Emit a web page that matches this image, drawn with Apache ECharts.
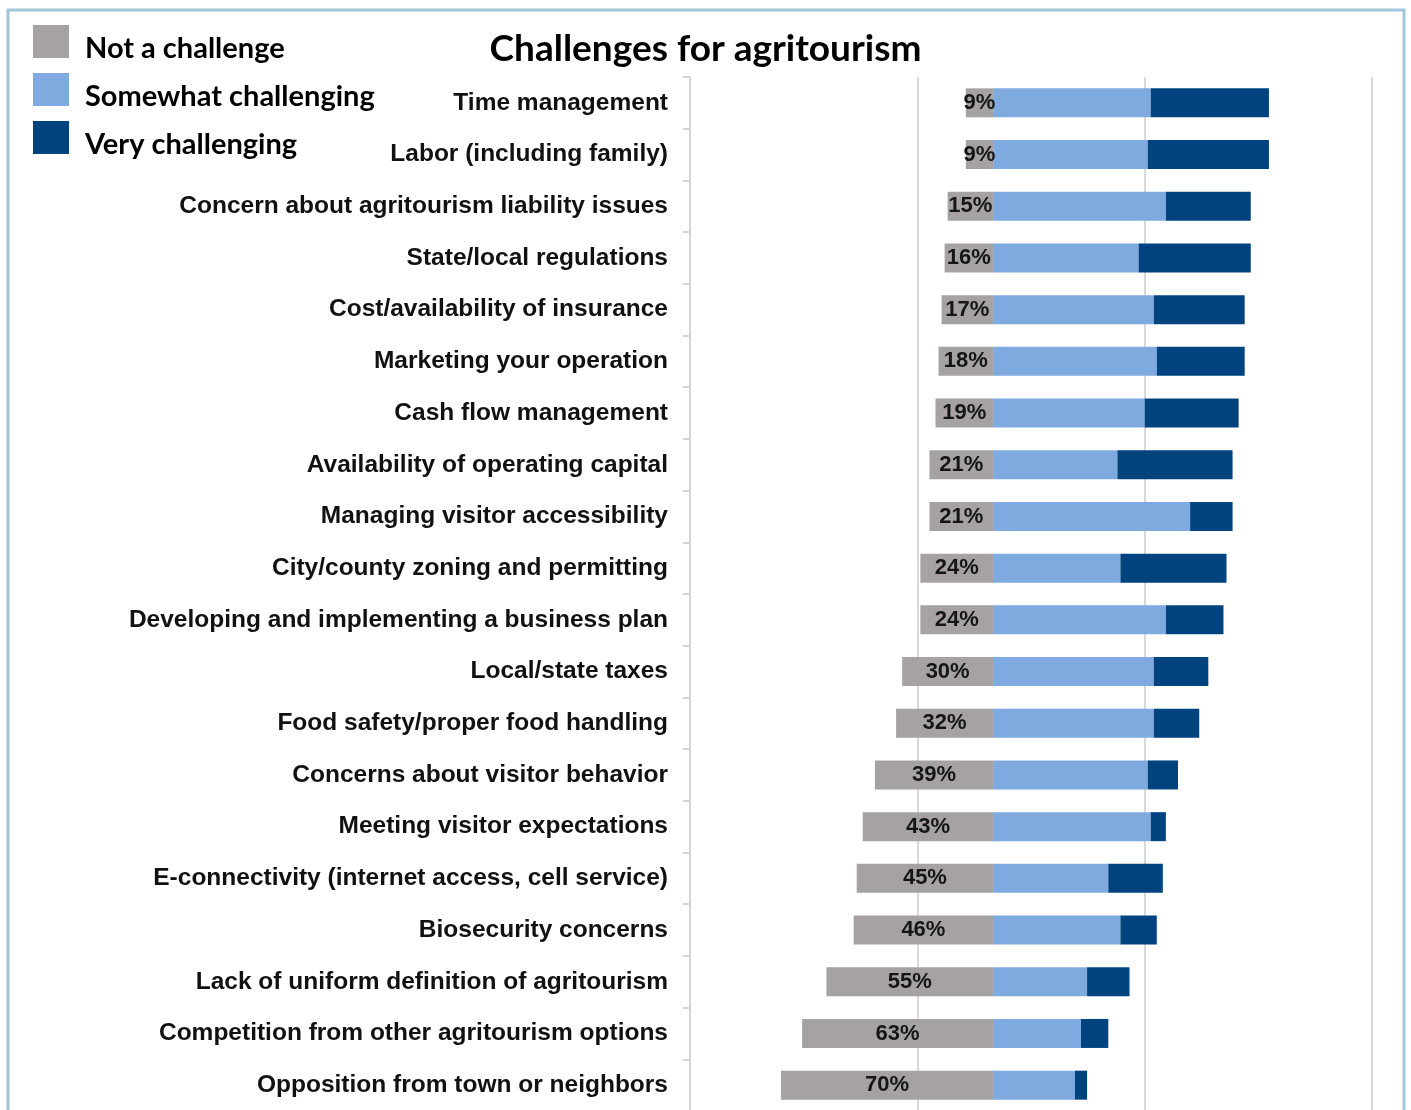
<!DOCTYPE html>
<html>
<head>
<meta charset="utf-8">
<title>Challenges for agritourism</title>
<script src="https://cdn.jsdelivr.net/npm/echarts@6.0.0/dist/echarts.min.js"></script>
<style>
	html, body { margin: 0; padding: 0; background: #fff; }
	#chart { width: 1411px; height: 1110px; }
</style>
</head>
<body>
<div id="chart"></div>
<script>
	// categories, top to bottom
	var categories = [
		'Time management',
		'Labor (including family)',
		'Concern about agritourism liability issues',
		'State/local regulations',
		'Cost/availability of insurance',
		'Marketing your operation',
		'Cash flow management',
		'Availability of operating capital',
		'Managing visitor accessibility',
		'City/county zoning and permitting',
		'Developing and implementing a business plan',
		'Local/state taxes',
		'Food safety/proper food handling',
		'Concerns about visitor behavior',
		'Meeting visitor expectations',
		'E-connectivity (internet access, cell service)',
		'Biosecurity concerns',
		'Lack of uniform definition of agritourism',
		'Competition from other agritourism options',
		'Opposition from town or neighbors'
	];
	// percent of respondents
	var notChallenge = [9, 9, 15, 16, 17, 18, 19, 21, 21, 24, 24, 30, 32, 39, 43, 45, 46, 55, 63, 70];
	var somewhat     = [52, 51, 57, 48, 53, 54, 50, 41, 65, 42, 57, 53, 53, 51, 52, 38, 42, 31, 29, 27];
	var very         = [39, 40, 28, 37, 30, 29, 31, 38, 14, 35, 19, 18, 15, 10, 5, 18, 12, 14, 9, 4];

	var seriesNames = ['Not a challenge', 'Somewhat challenging', 'Very challenging'];
	var colors = ['#a6a2a1', '#7faadf', '#00437f'];

	var chart = echarts.init(document.getElementById('chart'));

	function negate(arr){
		var out = [];
		for(var i = 0; i < arr.length; i++){
			out.push(-arr[i]);
		}
		return out;
	}

	var option = {
		animation: false,
		color: colors,
		title: {
			text: 'Challenges for agritourism',
			left: 'center',
			top: 31,
			padding: 0,
			textStyle: {
				fontFamily: 'Lato',
				fontWeight: 'bold',
				fontSize: 37,
				color: '#000'
			}
		},
		legend: {
			orient: 'vertical',
			left: 33,
			top: 25,
			padding: 0,
			itemWidth: 36,
			itemHeight: 33,
			itemGap: 10,
			icon: 'rect',
			data: seriesNames,
			formatter: '{t|{name}}',
			textStyle: {
				fontFamily: 'Lato',
				fontWeight: 'bold',
				fontSize: 29,
				color: '#000',
				rich: {
					// text sits a bit lower than the swatch centre, as in the source
					t: {
						fontFamily: 'Lato',
						fontWeight: 'bold',
						fontSize: 29,
						color: '#000',
						padding: [14, 0, 0, 11]
					}
				}
			}
		},
		grid: {
			left: 690,
			top: 77,
			width: 682,
			height: 1034,
			containLabel: false,
			outerBoundsMode: 'none'
		},
		xAxis: {
			type: 'value',
			min: -100,
			max: 125,
			interval: 75,
			axisLabel: { show: false },
			axisTick: { show: false },
			axisLine: { show: false },
			splitLine: {
				show: true,
				lineStyle: { color: '#d9d9d9', width: 2 }
			}
		},
		yAxis: {
			type: 'category',
			inverse: true,
			data: categories,
			axisLine: {
				show: true,
				onZero: false,
				lineStyle: { color: '#d4d4d4', width: 2 }
			},
			axisTick: {
				show: true,
				length: 7,
				lineStyle: { color: '#d4d4d4', width: 2 }
			},
			axisLabel: {
				margin: 22,
				fontFamily: 'Liberation Sans',
				fontWeight: 'bold',
				fontSize: 24.5,
				color: '#111'
			}
		},
		series: [
			{
				name: seriesNames[0],
				type: 'bar',
				stack: 'total',
				barWidth: 29,
				data: negate(notChallenge),
				label: {
					show: true,
					position: 'inside',
					fontFamily: 'Liberation Sans',
					fontWeight: 'bold',
					fontSize: 22,
					color: '#151515',
					formatter: function(p){
						return Math.abs(p.value) + '%';
					}
				}
			},
			{
				name: seriesNames[1],
				type: 'bar',
				stack: 'total',
				barWidth: 29,
				data: somewhat
			},
			{
				name: seriesNames[2],
				type: 'bar',
				stack: 'total',
				barWidth: 29,
				data: very
			}
		],
		// light frame around the whole figure
		graphic: [{
			type: 'rect',
			shape: { x: 8, y: 10, width: 1396, height: 1200 },
			style: { fill: 'none', stroke: '#a3c5d9', lineWidth: 3 },
			silent: true
		}]
	};

	chart.setOption(option);
</script>
</body>
</html>
